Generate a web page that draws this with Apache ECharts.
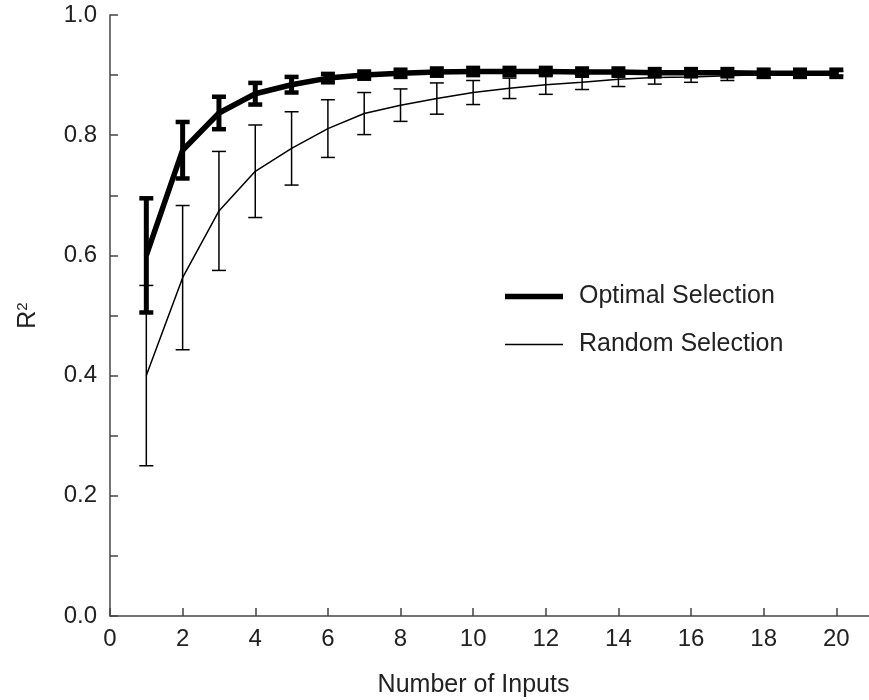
<!DOCTYPE html>
<html>
<head>
<meta charset="utf-8">
<script src="https://cdn.jsdelivr.net/npm/echarts@6/dist/echarts.min.js"></script>
<style>
html,body{margin:0;padding:0;background:#fff;}
#chart{width:869px;height:700px;}
</style>
</head>
<body>
<div id="chart"></div>
<script>
// ---- data ----
const inputs = [1,2,3,4,5,6,7,8,9,10,11,12,13,14,15,16,17,18,19,20];
const optimalMean = [0.600,0.775,0.837,0.869,0.884,0.895,0.900,0.903,0.905,0.906,0.906,0.906,0.905,0.905,0.904,0.904,0.904,0.903,0.903,0.903];
const optimalErr  = [0.095,0.047,0.027,0.018,0.013,0.007,0.006,0.006,0.006,0.006,0.006,0.006,0.006,0.006,0.006,0.006,0.006,0.006,0.006,0.006];
const randomMean  = [0.400,0.563,0.674,0.740,0.778,0.811,0.836,0.850,0.861,0.871,0.878,0.884,0.888,0.893,0.896,0.897,0.899,0.901,0.902,0.903];
const randomErr   = [0.150,0.120,0.099,0.077,0.061,0.048,0.035,0.027,0.026,0.020,0.017,0.016,0.012,0.012,0.011,0.009,0.008,0.006,0.004,0.003];
const seriesNames = ['Optimal Selection','Random Selection'];
const xTitle = 'Number of Inputs';

const FONT = 'Liberation Sans';
const chart = echarts.init(document.getElementById('chart'), null, {renderer:'canvas'});

function errorBarRenderer(stemWidth, capHalf, capWidth) {
  return function(params, api) {
    const x = api.value(0), lo = api.value(1), hi = api.value(2);
    const pLo = api.coord([x, lo]);
    const pHi = api.coord([x, hi]);
    const st = {stroke:'#000', lineWidth: stemWidth};
    const cs = {stroke:'#000', lineWidth: capWidth};
    return {
      type:'group',
      children:[
        {type:'line', shape:{x1:pLo[0], y1:pLo[1], x2:pHi[0], y2:pHi[1]}, style:st},
        {type:'line', shape:{x1:pLo[0]-capHalf, y1:pLo[1], x2:pLo[0]+capHalf, y2:pLo[1]}, style:cs},
        {type:'line', shape:{x1:pHi[0]-capHalf, y1:pHi[1], x2:pHi[0]+capHalf, y2:pHi[1]}, style:cs}
      ]
    };
  };
}

const optLine = inputs.map((x,i)=>[x, optimalMean[i]]);
const rndLine = inputs.map((x,i)=>[x, randomMean[i]]);
const optErrData = inputs.map((x,i)=>[x, optimalMean[i]-optimalErr[i], optimalMean[i]+optimalErr[i]]);
const rndErrData = inputs.map((x,i)=>[x, randomMean[i]-randomErr[i], randomMean[i]+randomErr[i]]);

const option = {
  backgroundColor:'#fff',
  animation:false,
  textStyle:{fontFamily:FONT},
  grid:{left:110, right:0, top:15, bottom:84, containLabel:false, outerBoundsMode:'none'},
  legend:[
    {data:[{name:seriesNames[0], icon:'rect'}], left:500, top:279, orient:'vertical',
     itemWidth:58, itemHeight:5.5, itemGap:10,
     textStyle:{fontFamily:FONT, fontSize:25, color:'#222', padding:[0,0,0,11]}},
    {data:[{name:seriesNames[1], icon:'rect'}], left:500, top:327, orient:'vertical',
     itemWidth:58, itemHeight:1.5, itemGap:10,
     textStyle:{fontFamily:FONT, fontSize:25, color:'#222', padding:[0,0,0,11]}}
  ],
  xAxis:{
    type:'value', min:0, max:20.9, interval:2,
    name:xTitle, nameLocation:'middle', nameGap:57,
    nameTextStyle:{fontFamily:FONT, fontSize:25, color:'#222', padding:[0,32,0,0]},
    axisLine:{show:true, onZero:false, lineStyle:{color:'#444', width:1.5}},
    axisTick:{show:true, inside:true, length:8, lineStyle:{color:'#444', width:1.5}},
    axisLabel:{fontFamily:FONT, fontSize:24, color:'#222', margin:11, showMaxLabel:false,
      formatter:function(v){ return (Math.abs(v-Math.round(v))<1e-6 && Math.round(v)%2===0) ? String(Math.round(v)) : ''; }},
    splitLine:{show:false}
  },
  yAxis:{
    type:'value', min:0, max:1, interval:0.1,
    name:'R{sup|2}', nameLocation:'middle', nameGap:68, nameRotate:90,
    nameTextStyle:{fontFamily:FONT, fontSize:25, color:'#222',
      rich:{sup:{fontFamily:FONT, fontSize:15, color:'#222', verticalAlign:'top', padding:[0,0,12,0]}}},
    axisLine:{show:true, lineStyle:{color:'#444', width:1.5}},
    axisTick:{show:true, inside:true, length:8, lineStyle:{color:'#444', width:1.5}},
    axisLabel:{fontFamily:FONT, fontSize:24, color:'#222', margin:13,
      formatter:function(v){ const k=Math.round(v*10); return k%2===0 ? v.toFixed(1) : ''; }},
    splitLine:{show:false}
  },
  series:[
    {name:seriesNames[1], type:'line', data:rndLine, symbol:'none',
     lineStyle:{color:'#000', width:1.5}, itemStyle:{color:'#000'}, z:2},
    {name:'randomErr', type:'custom', data:rndErrData, renderItem:errorBarRenderer(1.5, 7, 1.5), z:2},
    {name:seriesNames[0], type:'line', data:optLine, symbol:'none',
     lineStyle:{color:'#000', width:5.5}, itemStyle:{color:'#000'}, z:3},
    {name:'optimalErr', type:'custom', data:optErrData, renderItem:errorBarRenderer(5, 7, 4.5), z:3}
  ]
};
chart.setOption(option);
</script>
</body>
</html>
